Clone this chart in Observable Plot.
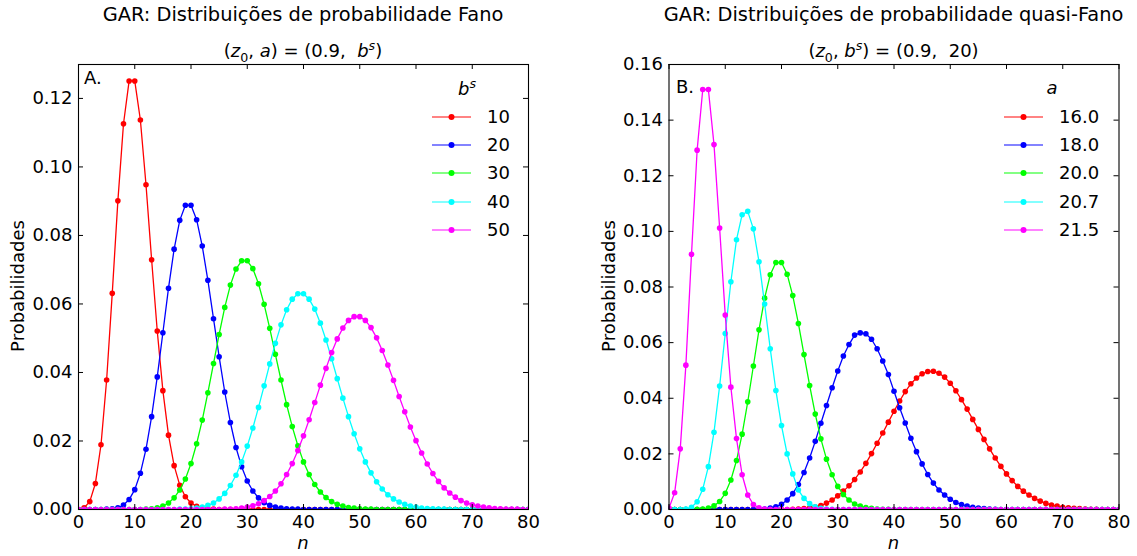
<!DOCTYPE html>
<html><head><meta charset="utf-8">
<script src="https://cdn.jsdelivr.net/npm/d3@7"></script>
<script src="https://cdn.jsdelivr.net/npm/@observablehq/plot@0.6"></script>
<style>
body{margin:0;background:#fff;}
#root{position:relative;width:1137px;height:556px;font-family:"DejaVu Sans",sans-serif;color:#000;overflow:hidden;background:#fff}
.abs{position:absolute;white-space:nowrap;line-height:1}
.plot{position:absolute;top:60px}
</style></head><body><div id="root"></div>
<script>
// ---------- data ----------
const nValues = d3.range(0, 81);
const xTicks = [0, 10, 20, 30, 40, 50, 60, 70, 80];
const yTicksA = [0, 0.02, 0.04, 0.06, 0.08, 0.10, 0.12];
const yTicksB = [0, 0.02, 0.04, 0.06, 0.08, 0.10, 0.12, 0.14, 0.16];

// Panel A: Fano, b^s = 10..50  (values for n = 0..80)
const fanoLabels = ["10", "20", "30", "40", "50"];
const fano10 = [0,0.0005,0.0023,0.0076,0.0189,0.0378,0.0631,0.0901,0.1126,0.1251,
 0.1251,0.1137,0.0948,0.0729,0.0521,0.0347,0.0217,0.0128,0.0071,0.0037,
 0.0019,0.0009,0.0004,0.0002,0.0001,0,0,0,0,0,
 0,0,0,0,0,0,0,0,0,0, 0,0,0,0,0,0,0,0,0,0, 0,0,0,0,0,0,0,0,0,0, 0,0,0,0,0,0,0,0,0,0, 0,0,0,0,0,0,0,0,0,0, 0];
const fano20 = [0,0,0,0,0,0.0001,0.0002,0.0005,0.0013,0.0029,
 0.0058,0.0106,0.0176,0.0271,0.0387,0.0516,0.0646,0.0760,0.0844,0.0888,
 0.0888,0.0846,0.0769,0.0669,0.0557,0.0446,0.0343,0.0254,0.0181,0.0125,
 0.0083,0.0054,0.0034,0.0020,0.0012,0.0007,0.0004,0.0002,0.0001,0.0001,
 0,0,0,0,0,0,0,0,0,0, 0,0,0,0,0,0,0,0,0,0, 0,0,0,0,0,0,0,0,0,0, 0,0,0,0,0,0,0,0,0,0, 0];
const fano30 = [0,0,0,0,0,0,0,0,0,0,
 0,0,0.0001,0.0002,0.0005,0.0010,0.0019,0.0034,0.0057,0.0089,
 0.0134,0.0192,0.0261,0.0341,0.0426,0.0511,0.0590,0.0655,0.0702,0.0726,
 0.0726,0.0703,0.0659,0.0599,0.0529,0.0453,0.0378,0.0306,0.0242,0.0186,
 0.0139,0.0102,0.0073,0.0051,0.0035,0.0023,0.0015,0.0010,0.0006,0.0004,
 0.0002,0.0001,0.0001,0,0,0,0,0,0,0, 0,0,0,0,0,0,0,0,0,0, 0,0,0,0,0,0,0,0,0,0, 0];
const fano40 = [0,0,0,0,0,0,0,0,0,0,
 0,0,0,0,0,0,0,0,0.0001,0.0001,
 0.0002,0.0004,0.0007,0.0012,0.0019,0.0031,0.0047,0.0070,0.0100,0.0139,
 0.0185,0.0238,0.0298,0.0361,0.0425,0.0485,0.0539,0.0583,0.0614,0.0630,
 0.0630,0.0614,0.0585,0.0544,0.0495,0.0440,0.0382,0.0325,0.0271,0.0221,
 0.0177,0.0139,0.0107,0.0081,0.0060,0.0043,0.0031,0.0022,0.0015,0.0010,
 0.0007,0.0004,0.0003,0.0002,0.0001,0.0001,0,0,0,0, 0,0,0,0,0,0,0,0,0,0, 0];
const fano50 = [0,0,0,0,0,0,0,0,0,0,
 0,0,0,0,0,0,0,0,0,0,
 0,0,0,0,0,0,0.0001,0.0001,0.0002,0.0004,
 0.0007,0.0011,0.0017,0.0026,0.0038,0.0054,0.0075,0.0102,0.0134,0.0172,
 0.0215,0.0262,0.0312,0.0363,0.0412,0.0458,0.0498,0.0530,0.0552,0.0563,
 0.0563,0.0552,0.0531,0.0501,0.0464,0.0422,0.0377,0.0330,0.0285,0.0241,
 0.0201,0.0165,0.0133,0.0105,0.0082,0.0063,0.0048,0.0036,0.0026,0.0019,
 0.0014,0.0010,0.0007,0.0005,0.0003,0.0002,0.0001,0.0001,0.0001,0,
 0];

// Panel B: quasi-Fano, a = 16.0 .. 21.5 (values for n = 0..80)
const quasiLabels = ["16.0", "18.0", "20.0", "20.7", "21.5"];
const quasi160 = [0,0,0,0,0,0,0,0,0,0,
 0,0,0,0,0,0,0,0,0,0,
 0,0,0.0001,0.0002,0.0003,0.0005,0.0009,0.0014,0.0023,0.0034,
 0.0049,0.0066,0.0085,0.0108,0.0135,0.0166,0.0201,0.0238,0.0275,0.0314,
 0.0353,0.0390,0.0424,0.0452,0.0473,0.0488,0.0496,0.0497,0.0490,0.0476,
 0.0454,0.0427,0.0395,0.0361,0.0324,0.0288,0.0252,0.0218,0.0185,0.0155,
 0.0128,0.0104,0.0083,0.0066,0.0052,0.0040,0.0030,0.0022,0.0016,0.0012,
 0.0008,0.0006,0.0004,0.0003,0.0002,0.0001,0.0001,0,0,0,
 0];
const quasi180 = [0,0,0,0,0,0,0,0,0,0,
 0,0,0,0,0,0,0.0001,0.0002,0.0005,0.0010,
 0.0019,0.0034,0.0057,0.0090,0.0133,0.0185,0.0245,0.0310,0.0374,0.0438,
 0.0498,0.0552,0.0593,0.0627,0.0635,0.0632,0.0612,0.0578,0.0534,0.0485,
 0.0425,0.0366,0.0311,0.0256,0.0208,0.0164,0.0126,0.0095,0.0070,0.0052,
 0.0037,0.0025,0.0018,0.0012,0.0008,0.0005,0.0003,0.0002,0.0001,0,
 0,0,0,0,0,0,0,0,0,0, 0,0,0,0,0,0,0,0,0,0, 0];
const quasi200 = [0,0,0,0,0,0.0001,0.0002,0.0005,0.0013,0.0029,
 0.0058,0.0106,0.0176,0.0271,0.0387,0.0516,0.0646,0.0760,0.0844,0.0888,
 0.0888,0.0846,0.0769,0.0669,0.0557,0.0446,0.0343,0.0254,0.0181,0.0125,
 0.0083,0.0054,0.0034,0.0020,0.0012,0.0007,0.0004,0.0002,0.0001,0.0001,
 0,0,0,0,0,0,0,0,0,0, 0,0,0,0,0,0,0,0,0,0, 0,0,0,0,0,0,0,0,0,0, 0,0,0,0,0,0,0,0,0,0, 0];
const quasi207 = [0,0,0,0.0002,0.0008,0.0028,0.0073,0.0154,0.0278,0.0444,
 0.0633,0.0819,0.0970,0.1060,0.1072,0.1009,0.0891,0.0739,0.0578,0.0428,
 0.0302,0.0200,0.0128,0.0070,0.0040,0.0021,0.0010,0.0004,0.0002,0.0001,
 0,0,0,0,0,0,0,0,0,0, 0,0,0,0,0,0,0,0,0,0, 0,0,0,0,0,0,0,0,0,0, 0,0,0,0,0,0,0,0,0,0, 0,0,0,0,0,0,0,0,0,0, 0];
const quasi215 = [0.0005,0.0060,0.0218,0.0519,0.0918,0.1292,0.1510,0.1510,0.1312,0.1012,
 0.0699,0.0440,0.0255,0.0125,0.0052,0.0018,0.0006,0.0002,0.0001,0,
 0,0,0,0,0,0,0,0,0,0, 0,0,0,0,0,0,0,0,0,0, 0,0,0,0,0,0,0,0,0,0, 0,0,0,0,0,0,0,0,0,0, 0,0,0,0,0,0,0,0,0,0, 0,0,0,0,0,0,0,0,0,0, 0];

const colors = ["#ff0000", "#0000ff", "#00ff00", "#00ffff", "#ff00ff"];

// ---------- layout ----------
const root = document.getElementById("root");
const SVG_TOP = 60, SVG_H = 496, M_TOP = 4, M_BOTTOM = 47;

function addText(html, css) {
  const d = document.createElement("div");
  d.className = "abs";
  d.innerHTML = html;
  Object.assign(d.style, css);
  root.appendChild(d);
  return d;
}

function panel(cfg) {
  const plotW = cfg.width - cfg.marginLeft - cfg.marginRight;
  const plotH = SVG_H - M_TOP - M_BOTTOM;
  const marks = [];
  cfg.series.forEach((vals, k) => {
    const rows = vals.map((p, i) => ({n: nValues[i], p}));
    marks.push(Plot.line(rows, {x: "n", y: "p", stroke: colors[k], strokeWidth: 1.3, clip: true}));
    marks.push(Plot.dot(rows, {x: "n", y: "p", fill: colors[k], r: 2.8, clip: true}));
  });
  marks.push(Plot.frame({stroke: "#000", strokeWidth: 1.1}));
  marks.push(Plot.tickY(cfg.yTicks, {y: d => d, insetRight: plotW - 5, stroke: "#000"}));
  marks.push(Plot.tickY(cfg.yTicks, {y: d => d, insetLeft: plotW - 5, stroke: "#000"}));
  marks.push(Plot.tickX(xTicks, {x: d => d, insetTop: plotH - 5, stroke: "#000"}));
  marks.push(Plot.tickX(xTicks, {x: d => d, insetBottom: plotH - 5, stroke: "#000"}));
  marks.push(Plot.axisX({ticks: xTicks, tickSize: 0, tickPadding: 6, tickFormat: d => String(d), label: null, fontSize: 18}));
  marks.push(Plot.axisY({ticks: cfg.yTicks, tickSize: 0, tickPadding: 6, tickFormat: d3.format(".2f"), label: null, fontSize: 18}));

  const svg = Plot.plot({
    width: cfg.width, height: SVG_H,
    marginLeft: cfg.marginLeft, marginRight: cfg.marginRight,
    marginTop: M_TOP, marginBottom: M_BOTTOM,
    x: {domain: [0, 80]},
    y: {domain: cfg.yDomain},
    style: {fontFamily: "DejaVu Sans", fontSize: "18px", color: "#000", background: "transparent", overflow: "visible"},
    marks
  });
  svg.classList.add("plot");
  svg.style.left = cfg.left + "px";
  root.appendChild(svg);

  const x0 = cfg.left + cfg.marginLeft, x1 = x0 + plotW;
  const cx = (x0 + x1) / 2;
  const t = addText(cfg.title, {fontSize: "19.4px", top: "5px", left: cx + "px", transform: "translateX(-50%)"});
  addText(cfg.subtitle, {fontSize: "18px", top: "40px", left: cx + "px", transform: "translateX(-50%)"});
  addText("Probabilidades", {fontSize: "18px", left: (x0 - 60) + "px", top: "286px", transform: "translate(-50%,-50%) rotate(-90deg)"});
  addText("<i>n</i>", {fontSize: "18px", left: cx + "px", top: "534px", transform: "translateX(-50%)"});
  addText(cfg.tag, {fontSize: "18px", left: cfg.tagX + "px", top: cfg.tagY + "px", transform: "translateY(-50%)"});

  // legend
  addText(cfg.legendTitle, {fontSize: "18px", left: cfg.legTitleX + "px", top: "88px", transform: "translate(-50%,-50%)"});
  cfg.labels.forEach((lab, k) => {
    const y = 117 + k * 28.2;
    const g = addText(
      `<svg width="40" height="10" style="display:block"><line x1="0" y1="5" x2="39" y2="5" stroke="${colors[k]}" stroke-width="1.6" stroke-opacity="0.65"/><circle cx="19.5" cy="5" r="3" fill="${colors[k]}"/></svg>`,
      {left: cfg.legLineX + "px", top: (y - 5) + "px"});
    addText(lab, {fontSize: "18px", left: cfg.legTextX + "px", top: y + "px", transform: "translateY(-50%)"});
  });
}

panel({
  left: 0, width: 568, marginLeft: 78, marginRight: 40,
  yDomain: [0, 0.1299], yTicks: yTicksA,
  series: [fano10, fano20, fano30, fano40, fano50],
  labels: fanoLabels,
  title: "GAR: Distribuições de probabilidade Fano",
  subtitle: "(<i>z</i><sub style='font-size:70%'>0</sub>, <i>a</i>) = (0.9,&nbsp; <i>b</i><sup style='font-size:70%'><i>s</i></sup>)",
  tag: "A.", tagX: 84, tagY: 78,
  legendTitle: "<i>b</i><sup style='font-size:70%'><i>s</i></sup>", legTitleX: 467,
  legLineX: 432, legTextX: 487
});

panel({
  left: 568, width: 569, marginLeft: 100.5, marginRight: 18.5,
  yDomain: [0, 0.16], yTicks: yTicksB,
  series: [quasi160, quasi180, quasi200, quasi207, quasi215],
  labels: quasiLabels,
  title: "GAR: Distribuições de probabilidade quasi-Fano",
  subtitle: "(<i>z</i><sub style='font-size:70%'>0</sub>, <i>b</i><sup style='font-size:70%'><i>s</i></sup>) = (0.9,&nbsp; 20)",
  tag: "B.", tagX: 676, tagY: 87,
  legendTitle: "<i>a</i>", legTitleX: 1052,
  legLineX: 1004, legTextX: 1059
});
</script></body></html>
